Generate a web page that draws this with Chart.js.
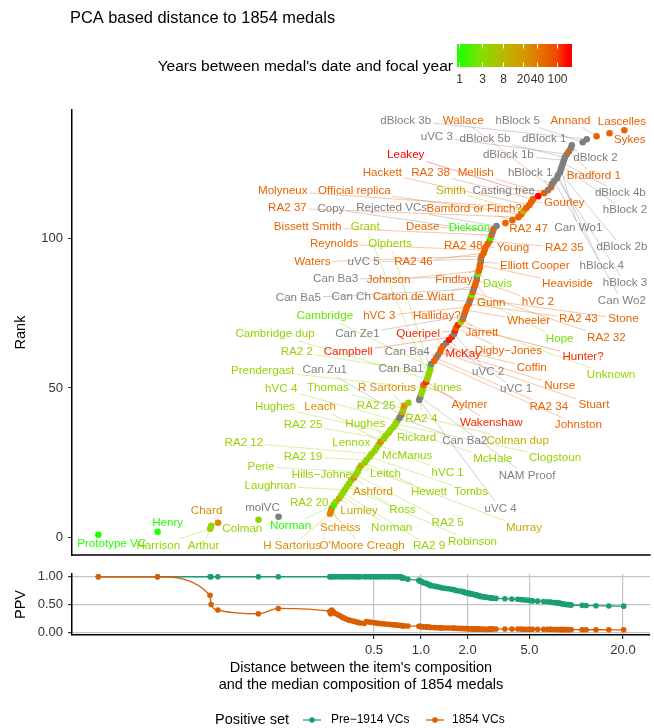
<!DOCTYPE html>
<html>
<head>
<meta charset="utf-8">
<title>PCA based distance to 1854 medals</title>
<script src="https://cdn.jsdelivr.net/npm/chart.js@4.4.1/dist/chart.umd.min.js"></script>
<style>
  body { margin: 0; background: #fff; }
  #page { position: relative; width: 654px; height: 728px; }
  #rankChart { position: absolute; left: 0; top: 0; }
  #ppvChart { position: absolute; left: 0; top: 560px; }
</style>
</head>
<body>
<div id="page">
  <canvas id="rankChart" width="654" height="560"></canvas>
  <canvas id="ppvChart" width="654" height="168"></canvas>
</div>
<script>
// items in rank order (rank = index + 1)
const medalNames = [
  "Prototype VC", "Henry", "Harrison", "Arthur", "Chard", "Colman", "molVC", "H Sartorius", "O'Moore Creagh", "Scheiss",
  "Norman", "RA2 20", "Lumley", "Norman", "RA2 9", "Laughnan", "Robinson", "Ross", "Hills\u2212Johnes", "Ashford",
  "RA2 5", "Perie", "Leitch", "Murray", "Hewett", "RA2 19", "Tombs", "RA2 12", "Lennox", "McManus",
  "hVC 1", "Leach", "RA2 25", "Hughes", "Hughes", "Rickard", "McHale", "Clogstoun", "hVC 4", "Can Ba2",
  "Can Zu1", "Colman dup", "Thomas", "R Sartorius", "RA2 26", "uVC 4", "NAM Proof", "RA2 4", "Innes", "Prendergast",
  "Aylmer", "Wakenshaw", "Cambridge dup", "Grant", "RA2 2", "Olpherts", "Cambridge", "Can Ba1", "Johnston", "RA2 34",
  "Can Ba4", "Stuart", "Nurse", "Coffin", "uVC 1", "McKay", "Campbell", "uVC 2", "Queripel", "Digby\u2212Jones",
  "Hunter?", "Unknown", "Jarrett", "Can Ze1", "Halliday?", "Wheeler", "hVC 3", "RA2 43", "Can Ch", "Stone",
  "Hope", "RA2 32", "Can Ba5", "Carton de Wiart", "Gunn", "hVC 2", "Can Ba3", "Davis", "Johnson", "Findlay",
  "Heaviside", "Elliott Cooper", "uVC 5", "Waters", "RA2 46", "Reynolds", "Young", "RA2 48", "RA2 35", "Dickson",
  "Bissett Smith", "Copy", "Dease", "Rejected VCs", "RA2 47", "Bamford or Finch?", "RA2 37", "Official replica", "Smith", "Molyneux",
  "Hackett", "Gourley", "RA2 38", "Leakey", "Mellish", "Casting tree", "Wallace", "hBlock 1", "Can Wo2", "hBlock 3",
  "hBlock 4", "dBlock 2b", "Can Wo1", "hBlock 2", "dBlock 4b", "dBlock 1b", "dBlock 5b", "uVC 3", "Bradford 1", "dBlock 2",
  "dBlock 1", "hBlock 5", "dBlock 3b", "Annand", "Lascelles", "Sykes"
];

// years between medal's date and focal year (null = undated, grey)
const yearsGap = [
  1, 1, 4, 4, 28, 4, null, 28, 28, 28,
  1, 4, 12, 4, 4, 4, 4, 4, 4, 28,
  4, 4, 4, 12, 4, 4, 4, 4, 4, 4,
  4, 28, 4, 4, 4, 4, 4, 4, 4, null,
  null, 12, 4, 28, 4, null, null, 4, 4, 4,
  60, 125, 4, 4, 4, 4, 2, null, 60, 60,
  null, 60, 60, 60, null, 140, 125, null, 125, 60,
  125, 4, 60, null, 60, 60, 60, 60, null, 60,
  2.5, 60, null, 60, 60, 60, null, 2.5, 60, 60,
  60, 60, null, 60, 60, 60, 60, 60, 60, 1,
  60, null, 60, null, 60, 60, 60, 60, 12, 60,
  60, 60, 60, 165, 60, null, 60, null, null, null,
  null, null, null, null, null, null, null, null, 60, null,
  null, null, null, 60, 60, 60
];

// distance between the item's composition and the median 1854 composition
const distance = [
  0.0084, 0.0202, 0.044, 0.0447, 0.0494, 0.090, 0.121, 0.259, 0.263, 0.267,
  0.275, 0.283, 0.296, 0.305, 0.314, 0.323, 0.333, 0.343, 0.353, 0.369,
  0.380, 0.391, 0.397, 0.409, 0.433, 0.446, 0.466, 0.480, 0.502, 0.517,
  0.532, 0.548, 0.573, 0.590, 0.616, 0.635, 0.663, 0.683, 0.703, 0.724,
  0.746, 0.757, 0.768, 0.779, 0.826, 0.971, 0.986, 1.00, 1.015, 1.03,
  1.035, 1.076, 1.092, 1.108, 1.124, 1.141, 1.145, 1.158, 1.21, 1.246,
  1.283, 1.321, 1.341, 1.381, 1.443, 1.508, 1.575, 1.622, 1.647, 1.671,
  1.72, 1.798, 1.852, 1.879, 1.906, 1.935, 1.964, 2.02, 2.05, 2.08,
  2.11, 2.144, 2.176, 2.208, 2.24, 2.273, 2.28, 2.307, 2.341, 2.376,
  2.38, 2.411, 2.415, 2.447, 2.52, 2.557, 2.595, 2.673, 2.75, 2.79,
  2.833, 2.875, 2.918, 3.048, 3.478, 3.855, 4.21, 4.40, 4.53, 4.73,
  4.94, 5.09, 5.24, 5.65, 6.17, 6.53, 6.83, 6.93, 7.14, 7.46,
  7.57, 7.79, 7.91, 8.02, 8.15, 8.26, 8.39, 8.63, 8.89, 9.16,
  9.29, 10.92, 11.58, 13.40, 16.22, 20.22
];

// PPV at each item's distance, per positive set
const ppvPre1914 = [
  1, 1, 1, 1, 1, 1, 1, 1, 1, 1,
  1, 1, 1, 1, 1, 1, 1, 1, 1, 1,
  1, 1, 1, 1, 1, 1, 1, 1, 1, 1,
  1, 1, 1, 1, 1, 1, 1, 1, 1, 1,
  1, 0.98, 0.977, 0.977, 0.956, 0.935, 0.93, 0.92, 0.91, 0.90,
  0.893, 0.885, 0.877, 0.87, 0.862, 0.855, 0.848, 0.84, 0.833, 0.826,
  0.819, 0.812, 0.805, 0.797, 0.79, 0.783, 0.776, 0.769, 0.762, 0.755,
  0.748, 0.741, 0.734, 0.727, 0.72, 0.714, 0.71, 0.705, 0.70, 0.696,
  0.692, 0.688, 0.684, 0.68, 0.676, 0.672, 0.668, 0.665, 0.661, 0.657,
  0.653, 0.65, 0.646, 0.643, 0.64, 0.636, 0.633, 0.629, 0.626, 0.623,
  0.62, 0.617, 0.613, 0.61, 0.605, 0.60, 0.595, 0.59, 0.585, 0.58,
  0.575, 0.57, 0.565, 0.56, 0.555, 0.55, 0.545, 0.541, 0.537, 0.533,
  0.529, 0.525, 0.521, 0.517, 0.513, 0.509, 0.505, 0.501, 0.497, 0.493,
  0.49, 0.485, 0.481, 0.478, 0.474, 0.47
];
const ppv1854 = [
  1, 1, 0.667, 0.5, 0.4, 0.333, 0.429, 0.375, 0.333, 0.4,
  0.364, 0.333, 0.308, 0.286, 0.267, 0.25, 0.235, 0.222, 0.211, 0.2,
  0.19, 0.182, 0.174, 0.167, 0.16, 0.192, 0.185, 0.179, 0.172, 0.167,
  0.161, 0.156, 0.152, 0.147, 0.143, 0.139, 0.135, 0.132, 0.128, 0.125,
  0.122, 0.119, 0.116, 0.114, 0.111, 0.109, 0.106, 0.104, 0.102, 0.1,
  0.098, 0.096, 0.094, 0.093, 0.091, 0.089, 0.088, 0.086, 0.085, 0.083,
  0.082, 0.081, 0.079, 0.078, 0.077, 0.076, 0.075, 0.074, 0.072, 0.071,
  0.07, 0.069, 0.068, 0.068, 0.067, 0.066, 0.065, 0.064, 0.063, 0.063,
  0.062, 0.061, 0.06, 0.06, 0.059, 0.058, 0.057, 0.057, 0.056, 0.056,
  0.055, 0.054, 0.054, 0.053, 0.053, 0.052, 0.052, 0.051, 0.051, 0.06,
  0.059, 0.059, 0.058, 0.058, 0.057, 0.057, 0.056, 0.056, 0.055, 0.055,
  0.054, 0.054, 0.053, 0.053, 0.052, 0.052, 0.051, 0.051, 0.05, 0.05,
  0.05, 0.049, 0.049, 0.048, 0.048, 0.048, 0.047, 0.047, 0.047, 0.046,
  0.046, 0.045, 0.045, 0.045, 0.044, 0.044
];

const rankTicks = [0, 50, 100];
const ppvTicks = [0, 0.25, 0.5, 0.75, 1];
const distTicks = [0.5, 1, 2, 5, 20];
const gapTicks = [1, 3, 8, 20, 40, 100];

// where the repelled labels sit (log10 distance, rank)
const labelLogDist = [
  -1.99, -1.63, -1.69, -1.40, -1.38, -1.15, -1.02, -0.83, -0.38, -0.52,
  -0.84, -0.72, -0.40, -0.19, 0.05, -0.97, 0.33, -0.12, -0.62, -0.31,
  0.17, -1.03, -0.23, 0.66, 0.05, -0.76, 0.32, -1.14, -0.45, -0.09,
  0.17, -0.65, -0.76, -0.36, -0.94, -0.03, 0.46, 0.86, -0.90, 0.28,
  -0.62, 0.62, -0.60, -0.22, -0.29, 0.51, 0.68, 0.00, 0.17, -1.02,
  0.31, 0.45, -0.94, -0.36, -0.80, -0.20, -0.62, -0.13, 1.01, 0.82,
  -0.09, 1.11, 0.89, 0.71, 0.61, 0.27, -0.47, 0.43, -0.02, 0.56,
  1.04, 1.22, 0.39, -0.41, 0.10, 0.69, -0.27, 1.01, -0.45, 1.30,
  0.89, 1.19, -0.79, -0.05, 0.45, 0.75, -0.55, 0.49, -0.21, 0.21,
  0.94, 0.73, -0.37, -0.70, -0.05, -0.56, 0.59, 0.27, 0.92, 0.31,
  -0.73, -0.58, 0.01, -0.19, 0.69, 0.34, -0.86, -0.43, 0.19, -0.89,
  -0.25, 0.92, 0.06, -0.10, 0.35, 0.53, 0.27, 0.70, 1.29, 1.31,
  1.16, 1.29, 1.01, 1.31, 1.28, 0.56, 0.41, 0.10, 1.11, 1.12,
  0.79, 0.62, -0.10, 0.96, 1.29, 1.34
];
const labelRank = [
  -2.0, 5.0, -2.7, -2.7, 9.0, 3.0, 10.0, -2.7, -2.7, 3.3,
  4.0, 11.7, 9.0, 3.3, -2.7, 17.3, -1.3, 9.3, 21.0, 15.3,
  5.0, 23.7, 21.3, 3.3, 15.3, 27.0, 15.3, 31.7, 31.7, 27.3,
  21.7, 43.7, 37.7, 38.0, 43.7, 33.3, 26.3, 26.7, 49.7, 32.3,
  56.0, 32.3, 50.0, 50.0, 44.0, 9.7, 20.7, 39.7, 50.0, 55.7,
  44.3, 38.3, 68.0, 103.7, 62.0, 98.0, 74.0, 56.3, 37.7, 43.7,
  62.0, 44.3, 50.7, 56.7, 49.7, 61.3, 62.0, 55.3, 68.0, 62.3,
  60.3, 54.3, 68.3, 68.0, 74.0, 72.3, 74.0, 73.0, 80.3, 73.0,
  66.3, 66.7, 80.0, 80.3, 78.3, 78.7, 86.3, 84.7, 86.0, 86.0,
  84.7, 90.7, 92.0, 92.0, 92.0, 98.0, 96.7, 97.3, 96.7, 103.3,
  103.7, 109.7, 103.7, 110.0, 103.0, 109.7, 110.0, 115.7, 115.7, 115.7,
  121.7, 111.7, 121.7, 127.7, 121.7, 115.7, 139.3, 121.7, 79.0, 85.0,
  90.7, 97.0, 103.3, 109.3, 115.0, 127.7, 133.3, 133.7, 120.7, 126.7,
  133.3, 139.3, 139.3, 139.3, 138.7, 132.7
];

const FONT = '"Liberation Sans", Arial, Helvetica, sans-serif';
const xMin = Math.pow(10, -2.245), xMax = Math.pow(10, 1.475);
const gapMax = 165;

// green -> red colour bar
const gapStops = [
  [0, [34, 255, 0]], [0.22, [136, 221, 0]], [0.41, [184, 184, 0]], [0.59, [212, 154, 0]],
  [0.72, [226, 122, 0]], [0.9, [242, 72, 0]], [1, [255, 0, 0]]
];
function gapRgb(years) {
  if (years == null) return [127, 127, 127];
  let t = Math.log10(years) / Math.log10(gapMax);
  t = Math.max(0, Math.min(1, t));
  for (let i = 1; i < gapStops.length; i++) {
    const [t1, c1] = gapStops[i];
    const [t0, c0] = gapStops[i - 1];
    if (t <= t1) {
      const f = (t - t0) / (t1 - t0);
      return c0.map((v, k) => Math.round(v + (c1[k] - v) * f));
    }
  }
  return gapStops[gapStops.length - 1][1];
}
function rgba(c, a) { return `rgba(${c[0]},${c[1]},${c[2]},${a})`; }

const LABEL_FONT = `11.6px ${FONT}`;

const rankOverlay = {
  id: "rankOverlay",
  beforeDatasetsDraw(chart) {
    const { ctx, scales } = chart;
    ctx.save();
    ctx.font = LABEL_FONT;
    ctx.lineWidth = 0.8;
    medalNames.forEach((name, i) => {
      const px = scales.x.getPixelForValue(distance[i]);
      const py = scales.y.getPixelForValue(i + 1);
      const lx = scales.x.getPixelForValue(Math.pow(10, labelLogDist[i]));
      const ly = scales.y.getPixelForValue(labelRank[i]);
      const hw = ctx.measureText(name).width / 2 + 2, hh = 7;
      const dx = px - lx, dy = py - ly;
      const t = Math.min(dx ? hw / Math.abs(dx) : Infinity, dy ? hh / Math.abs(dy) : Infinity);
      if (t >= 1) return;
      const sx = lx + dx * t, sy = ly + dy * t;
      const len = Math.hypot(px - sx, py - sy);
      if (len < 5) return;
      const ex = px - (px - sx) / len * 2.5, ey = py - (py - sy) / len * 2.5;
      ctx.strokeStyle = rgba(gapRgb(yearsGap[i]), 0.45);
      ctx.beginPath();
      ctx.moveTo(sx, sy);
      ctx.lineTo(ex, ey);
      ctx.stroke();
    });
    ctx.restore();
  },
  afterDatasetsDraw(chart) {
    const { ctx, scales } = chart;
    ctx.save();
    ctx.font = LABEL_FONT;
    ctx.textAlign = "center";
    ctx.textBaseline = "middle";
    medalNames.forEach((name, i) => {
      const lx = scales.x.getPixelForValue(Math.pow(10, labelLogDist[i]));
      const ly = scales.y.getPixelForValue(labelRank[i]);
      ctx.fillStyle = rgba(gapRgb(yearsGap[i]), 1);
      ctx.fillText(name, lx, ly);
    });
    ctx.restore();
  },
  afterDraw(chart) {
    const { ctx, chartArea } = chart;
    ctx.save();
    // x axis line of the top panel
    ctx.strokeStyle = "#000";
    ctx.lineWidth = 1.5;
    ctx.beginPath();
    ctx.moveTo(chartArea.left - 0.75, chartArea.bottom);
    ctx.lineTo(chartArea.right, chartArea.bottom);
    ctx.stroke();

    // title
    ctx.fillStyle = "#000";
    ctx.font = `16.4px ${FONT}`;
    ctx.textAlign = "left";
    ctx.textBaseline = "middle";
    ctx.fillText("PCA based distance to 1854 medals", 70, 18);

    // y title
    ctx.font = `14.5px ${FONT}`;
    ctx.textAlign = "center";
    ctx.save();
    ctx.translate(21, (chartArea.top + chartArea.bottom) / 2);
    ctx.rotate(-Math.PI / 2);
    ctx.fillText("Rank", 0, 0);
    ctx.restore();

    // colour legend
    const barL = 457, barR = 572, barT = 44, barB = 67;
    const g0 = 459, gSpan = 108.6;
    const grad = ctx.createLinearGradient(g0, 0, g0 + gSpan, 0);
    gapStops.forEach(([t, c]) => grad.addColorStop(t, rgba(c, 1)));
    ctx.fillStyle = grad;
    ctx.fillRect(barL, barT, barR - barL, barB - barT);
    ctx.strokeStyle = "#fff";
    ctx.lineWidth = 1;
    ctx.fillStyle = "#333";
    ctx.font = `12px ${FONT}`;
    ctx.textAlign = "center";
    gapTicks.forEach(v => {
      const tx = Math.round(g0 + gSpan * Math.log10(v) / Math.log10(gapMax)) + 0.5;
      ctx.beginPath();
      ctx.moveTo(tx, barT); ctx.lineTo(tx, barT + 4.5);
      ctx.moveTo(tx, barB - 4.5); ctx.lineTo(tx, barB);
      ctx.stroke();
      ctx.fillText(String(v), tx, 80);
    });
    ctx.fillStyle = "#000";
    ctx.font = `15.5px ${FONT}`;
    ctx.textAlign = "right";
    ctx.fillText("Years between medal's date and focal year", 453, 67);
    ctx.restore();
  }
};

new Chart(document.getElementById("rankChart"), {
  type: "scatter",
  data: {
    datasets: [{
      data: distance.map((d, i) => ({ x: d, y: i + 1 })),
      backgroundColor: yearsGap.map(v => rgba(gapRgb(v), 1)),
      borderWidth: 0,
      pointRadius: 3.3,
      pointHoverRadius: 3.3
    }]
  },
  options: {
    responsive: false,
    animation: false,
    layout: { padding: { top: 110, bottom: 5, left: 0, right: 0 } },
    plugins: { legend: { display: false }, tooltip: { enabled: false } },
    scales: {
      x: { type: "logarithmic", min: xMin, max: xMax, display: false },
      y: {
        type: "linear", min: -5.75, max: 142.75,
        afterBuildTicks: s => { s.ticks = rankTicks.map(v => ({ value: v })); },
        afterFit: s => { s.width = 72; s.paddingTop = 0; s.paddingBottom = 0; },
        ticks: { color: "#333", font: { family: FONT, size: 13 }, padding: 5 },
        grid: { drawOnChartArea: false, drawTicks: true, tickLength: 4, tickColor: "#333" },
        border: { display: true, color: "#000", width: 1.5 }
      }
    }
  },
  plugins: [rankOverlay]
});

const TEAL = "#1B9E77", ORANGE = "#D95F02";

const ppvOverlay = {
  id: "ppvOverlay",
  afterDraw(chart) {
    const { ctx, chartArea } = chart;
    ctx.save();
    ctx.fillStyle = "#000";
    ctx.textAlign = "center";
    ctx.textBaseline = "middle";
    ctx.font = `14.5px ${FONT}`;
    const cx = (chartArea.left + chartArea.right) / 2;
    ctx.fillText("Distance between the item's composition", cx, 108);
    ctx.fillText("and the median composition of 1854 medals", cx, 125);
    ctx.save();
    ctx.translate(21, (chartArea.top + chartArea.bottom) / 2);
    ctx.rotate(-Math.PI / 2);
    ctx.fillText("PPV", 0, 0);
    ctx.restore();

    // legend
    const ly = 160;
    ctx.textAlign = "left";
    ctx.fillText("Positive set", 215, ly);
    ctx.font = `12px ${FONT}`;
    [[TEAL, 303, "Pre\u22121914 VCs", 331], [ORANGE, 426, "1854 VCs", 452]].forEach(([c, x0, txt, tx]) => {
      ctx.strokeStyle = c;
      ctx.fillStyle = c;
      ctx.lineWidth = 1.3;
      ctx.beginPath();
      ctx.moveTo(x0, ly); ctx.lineTo(x0 + 18, ly);
      ctx.stroke();
      ctx.beginPath();
      ctx.arc(x0 + 9, ly, 2.8, 0, Math.PI * 2);
      ctx.fill();
      ctx.fillStyle = "#000";
      ctx.fillText(txt, tx, ly);
    });
    ctx.restore();
  }
};

new Chart(document.getElementById("ppvChart"), {
  type: "scatter",
  data: {
    datasets: [
      {
        label: "1854 VCs",
        data: distance.map((d, i) => ({ x: d, y: ppv1854[i] })),
        showLine: true, borderColor: ORANGE, backgroundColor: ORANGE,
        borderWidth: 1.3, pointRadius: 2.8, pointBorderWidth: 0,
        cubicInterpolationMode: "monotone", order: 0
      },
      {
        label: "Pre\u22121914 VCs",
        data: distance.map((d, i) => ({ x: d, y: ppvPre1914[i] })),
        showLine: true, borderColor: TEAL, backgroundColor: TEAL,
        borderWidth: 1.3, pointRadius: 2.8, pointBorderWidth: 0,
        cubicInterpolationMode: "monotone", order: 1
      }
    ]
  },
  options: {
    responsive: false,
    animation: false,
    layout: { padding: { top: 14, bottom: 0, left: 0, right: 0 } },
    plugins: { legend: { display: false }, tooltip: { enabled: false } },
    scales: {
      x: {
        type: "logarithmic", min: xMin, max: xMax,
        afterBuildTicks: s => { s.ticks = distTicks.map(v => ({ value: v })); },
        afterFit: s => { s.height = 93; s.paddingLeft = 0; s.paddingRight = 0; },
        ticks: {
          autoSkip: false, maxRotation: 0, color: "#333", padding: 4,
          font: { family: FONT, size: 13 },
          callback: v => Number(v).toFixed(1)
        },
        grid: { color: "#C4C4C4", lineWidth: 1.2, tickLength: 4, tickColor: "#333" },
        border: { display: true, color: "#000", width: 1.5 }
      },
      y: {
        type: "linear", min: -0.05, max: 1.05,
        afterBuildTicks: s => { s.ticks = ppvTicks.map(v => ({ value: v })); },
        afterFit: s => { s.width = 72; s.paddingTop = 0; s.paddingBottom = 0; },
        ticks: {
          color: "#333", padding: 5, font: { family: FONT, size: 13 },
          callback: v => Number(v).toFixed(2)
        },
        grid: { color: "#C4C4C4", lineWidth: 1.2, tickLength: 4, tickColor: "#333" },
        border: { display: true, color: "#000", width: 1.5 }
      }
    }
  },
  plugins: [ppvOverlay]
});
</script>
</body>
</html>
